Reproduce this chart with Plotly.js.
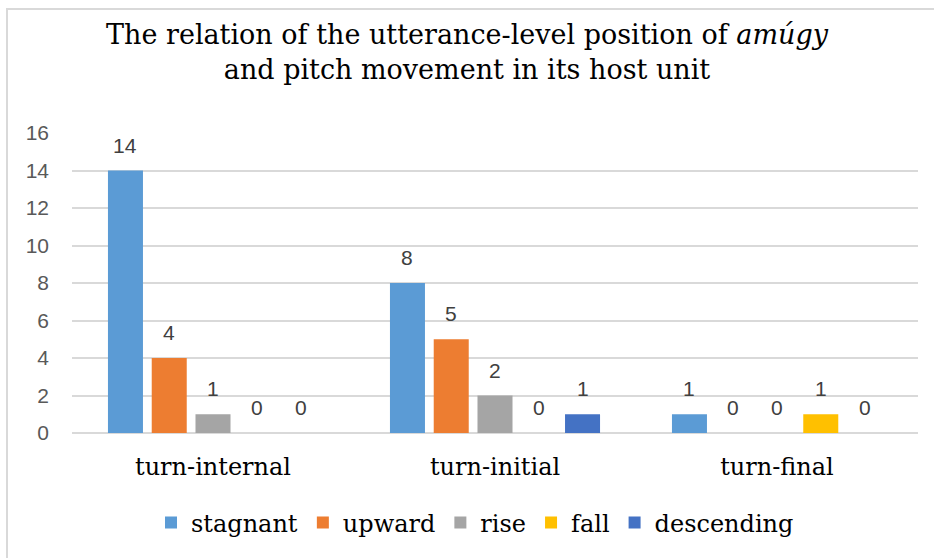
<!DOCTYPE html>
<html>
<head>
<meta charset="utf-8">
<script src="https://cdn.plot.ly/plotly-3.0.1.min.js"></script>
<style>
  html, body { margin: 0; padding: 0; background: #ffffff; }
  #wrap { position: relative; width: 934px; height: 558px; overflow: hidden; }
  #frame { position: absolute; left: 6px; top: 8px; width: 1000px; height: 600px;
           border-left: 2px solid #d9d9d9; border-top: 2px solid #d9d9d9; }
  #chart { position: absolute; left: 0; top: 0; width: 934px; height: 558px; }
</style>
</head>
<body>
<div id="wrap"><div id="frame"></div><div id="chart"></div></div>
<script>
const categories = ["turn-internal", "turn-initial", "turn-final"];
const seriesNames = ["stagnant", "upward", "rise", "fall", "descending"];
const stagnant   = [14, 8, 1];
const upward     = [4, 5, 0];
const rise       = [1, 2, 0];
const fall       = [0, 0, 1];
const descending = [0, 1, 0];
const seriesValues = [stagnant, upward, rise, fall, descending];
const seriesColors = ["#5b9bd5", "#ed7d31", "#a5a5a5", "#ffc000", "#4472c4"];
const yTicks = [0, 2, 4, 6, 8, 10, 12, 14, 16];

const W = 934, H = 558;
const margin = {l: 72, r: 16, t: 133, b: 125};
const bargap = 0.224, bargroupgap = 0.2;
const serif = "'DejaVu Serif', 'Liberation Serif', serif";
const sans = "'Liberation Sans', Arial, sans-serif";

const traces = seriesNames.map((name, i) => ({
  type: "bar",
  name: name,
  x: categories,
  y: seriesValues[i],
  marker: {color: seriesColors[i]},
  hoverinfo: "none"
}));

// data labels as annotations over each bar slot
const plotW = W - margin.l - margin.r;
const catW = plotW / categories.length;
const slot = catW * (1 - bargap) / seriesNames.length;
const annotations = [];
seriesNames.forEach((name, i) => {
  categories.forEach((c, j) => {
    annotations.push({
      x: c, y: seriesValues[i][j], xref: "x", yref: "y",
      text: String(seriesValues[i][j]),
      showarrow: false,
      xshift: (i - (seriesNames.length - 1) / 2) * slot,
      yshift: 12,
      yanchor: "bottom",
      font: {family: sans, size: 21, color: "#404040"}
    });
  });
});

const layout = {
  width: W, height: H,
  margin: margin,
  paper_bgcolor: "rgba(0,0,0,0)",
  plot_bgcolor: "rgba(0,0,0,0)",
  barmode: "group",
  bargap: bargap,
  bargroupgap: bargroupgap,
  title: {
    text: "The relation of the utterance-level position of <i>amúgy</i><br>and pitch movement in its host unit",
    font: {family: serif, size: 27, color: "#000000"},
    x: 0.5, xref: "container", xanchor: "center",
    y: 1 - 44 / H, yref: "container", yanchor: "top"
  },
  xaxis: {
    type: "category",
    showgrid: false,
    showline: false,
    zeroline: false,
    ticks: "",
    ticklabelstandoff: 17,
    tickfont: {family: serif, size: 24, color: "#000000"}
  },
  yaxis: {
    range: [0, 16],
    tickvals: yTicks,
    ticktext: yTicks.map(String),
    showgrid: true,
    gridcolor: "#d9d9d9",
    gridwidth: 2,
    zeroline: true,
    zerolinecolor: "#d9d9d9",
    zerolinewidth: 2,
    showline: false,
    ticks: "",
    ticklabelstandoff: 22,
    tickfont: {family: sans, size: 21, color: "#595959"}
  },
  showlegend: true,
  legend: {
    orientation: "h",
    x: 0.5 - 20 / (W - margin.l - margin.r), xanchor: "center",
    y: (433 - 523) / 300,
    yanchor: "middle",
    font: {family: serif, size: 24, color: "#000000"},
    itemwidth: 30,
    traceorder: "normal"
  },
  annotations: annotations
};

Plotly.newPlot("chart", traces, layout, {displayModeBar: false, staticPlot: true});
</script>
</body>
</html>
